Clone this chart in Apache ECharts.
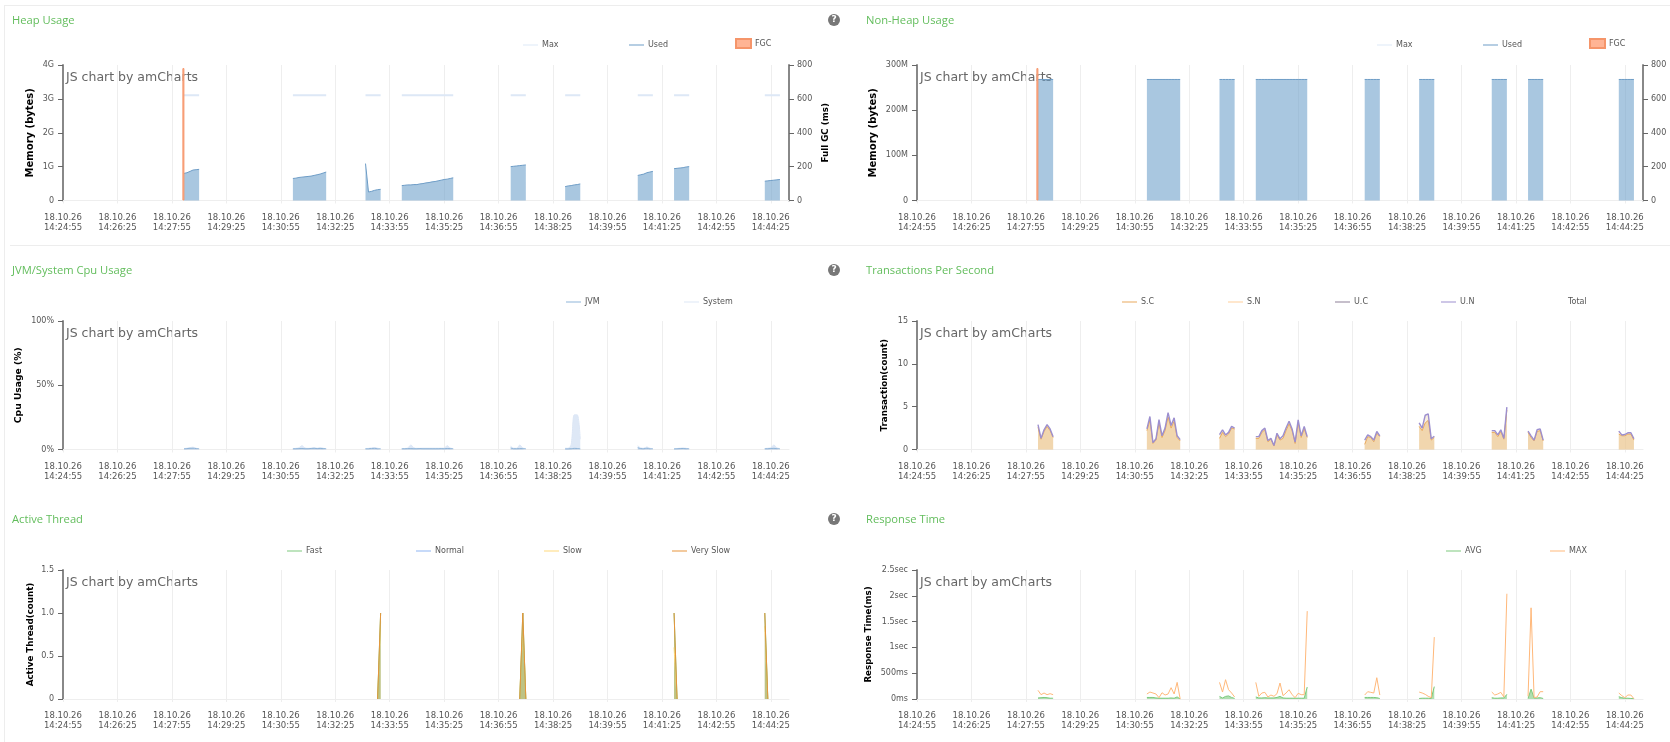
<!DOCTYPE html>
<html>
<head>
<meta charset="utf-8">
<title>Inspector</title>
<script src="https://cdn.jsdelivr.net/npm/echarts@6/dist/echarts.min.js"></script>
<style>
	html, body { margin: 0; padding: 0; background: #fff; width: 1670px; height: 742px; overflow: hidden; }
	.rule { position: absolute; background: #ededed; }
	.myECharts { position: absolute; }
</style>
</head>
<body>
<div class="rule" style="left:4px;top:5px;width:1666px;height:1px"></div>
<div class="rule" style="left:4px;top:5px;width:1px;height:737px"></div>
<div class="rule" style="left:10px;top:245px;width:1660px;height:1px"></div>
<div id="heapChart" class="myECharts" style="left:0;top:0;width:845px;height:245px"></div>
<div id="nonHeapChart" class="myECharts" style="left:845px;top:0;width:825px;height:245px"></div>
<div id="cpuChart" class="myECharts" style="left:0;top:245px;width:845px;height:250px"></div>
<div id="tpsChart" class="myECharts" style="left:845px;top:245px;width:825px;height:250px"></div>
<div id="threadChart" class="myECharts" style="left:0;top:495px;width:845px;height:247px"></div>
<div id="responseChart" class="myECharts" style="left:845px;top:495px;width:825px;height:247px"></div>
<script>
// x axis, seconds after 14:24:55
var dateLabel = "18.10.26";
var timeLabels = ["14:24:55", "14:26:25", "14:27:55", "14:29:25", "14:30:55", "14:32:25", "14:33:55",
	"14:35:25", "14:36:55", "14:38:25", "14:39:55", "14:41:25", "14:42:55", "14:44:25"];

// samples come in runs, the agent was not reporting between them
var sampleTimes = [
	[200, 205, 210, 215, 220, 225],
	[380, 385, 390, 395, 400, 405, 410, 415, 420, 425, 430, 435],
	[500, 505, 510, 515, 520, 525],
	[560, 565, 570, 575, 580, 585, 590, 595, 600, 605, 610, 615, 620, 625, 630, 635, 640, 645],
	[740, 745, 750, 755, 760, 765],
	[830, 835, 840, 845, 850, 855],
	[950, 955, 960, 965, 970, 975],
	[1010, 1015, 1020, 1025, 1030, 1035],
	[1160, 1165, 1170, 1175, 1180, 1185]
];

var fgcTimes = [199];
var fgcValues = [782];

// heap, GB
var heapMax = [
	[3.11, 3.11, 3.11, 3.11, 3.11, 3.11],
	[3.11, 3.11, 3.11, 3.11, 3.11, 3.11, 3.11, 3.11, 3.11, 3.11, 3.11, 3.11],
	[3.11, 3.11, 3.11, 3.11, 3.11, 3.11],
	[3.11, 3.11, 3.11, 3.11, 3.11, 3.11, 3.11, 3.11, 3.11, 3.11, 3.11, 3.11, 3.11, 3.11, 3.11, 3.11, 3.11, 3.11],
	[3.11, 3.11, 3.11, 3.11, 3.11, 3.11],
	[3.11, 3.11, 3.11, 3.11, 3.11, 3.11],
	[3.11, 3.11, 3.11, 3.11, 3.11, 3.11],
	[3.11, 3.11, 3.11, 3.11, 3.11, 3.11],
	[3.11, 3.11, 3.11, 3.11, 3.11, 3.11]
];
var heapUsed = [
	[0.80, 0.82, 0.86, 0.90, 0.91, 0.92],
	[0.65, 0.66, 0.68, 0.69, 0.70, 0.71, 0.72, 0.74, 0.76, 0.78, 0.81, 0.84],
	[1.09, 0.25, 0.27, 0.30, 0.32, 0.33],
	[0.44, 0.45, 0.46, 0.46, 0.47, 0.47, 0.49, 0.50, 0.52, 0.53, 0.55, 0.56, 0.58, 0.60, 0.62, 0.63, 0.65, 0.67],
	[1.00, 1.01, 1.02, 1.03, 1.04, 1.05],
	[0.41, 0.43, 0.44, 0.46, 0.47, 0.49],
	[0.74, 0.76, 0.78, 0.82, 0.84, 0.86],
	[0.94, 0.95, 0.96, 0.97, 0.99, 1.00],
	[0.57, 0.58, 0.59, 0.60, 0.61, 0.62]
];
var heapLabels = ["0", "1G", "2G", "3G", "4G"];

// non heap, MB
var nonHeapMax = [];
var nonHeapUsed = [
	[268, 268, 268, 268, 268, 268],
	[268, 268, 268, 268, 268, 268, 268, 268, 268, 268, 268, 268],
	[268, 268, 268, 268, 268, 268],
	[268, 268, 268, 268, 268, 268, 268, 268, 268, 268, 268, 268, 268, 268, 268, 268, 268, 268],
	[268, 268, 268, 268, 268, 268],
	[268, 268, 268, 268, 268, 268],
	[268, 268, 268, 268, 268, 268],
	[268, 268, 268, 268, 268, 268],
	[268, 268, 268, 268, 268, 268]
];
var nonHeapLabels = ["0", "100M", "200M", "300M"];
var fullGcLabels = ["0", "200", "400", "600", "800"];

// cpu, percent
var cpuJvm = [
	[0.6, 0.7, 0.9, 1.0, 0.7, 0.5],
	[0.6, 0.6, 0.7, 0.8, 0.6, 0.6, 0.8, 0.9, 0.7, 0.8, 0.7, 0.5],
	[0.6, 0.6, 0.8, 0.9, 0.6, 0.5],
	[0.6, 0.6, 0.7, 0.7, 0.6, 0.6, 0.7, 0.6, 0.6, 0.6, 0.6, 0.6, 0.6, 0.7, 0.6, 0.8, 0.7, 0.5],
	[1.2, 0.6, 0.6, 0.7, 0.7, 0.5],
	[0.5, 0.5, 0.6, 0.9, 0.8, 0.5],
	[1.5, 0.7, 0.6, 1.0, 0.6, 0.5],
	[0.5, 0.6, 0.7, 0.8, 0.6, 0.5],
	[0.6, 0.6, 0.8, 0.9, 0.7, 0.5]
];
var cpuSystem = [
	[0.8, 1.0, 1.5, 1.8, 1.0, 0.6],
	[0.8, 0.9, 1.4, 3.0, 1.2, 0.9, 1.0, 1.5, 1.0, 1.5, 1.0, 0.6],
	[0.8, 0.9, 1.2, 1.5, 1.0, 0.6],
	[0.7, 0.8, 1.2, 3.5, 1.3, 0.9, 0.9, 1.0, 1.0, 1.0, 1.0, 1.0, 1.0, 1.0, 1.0, 3.0, 1.2, 0.6],
	[2.5, 1.0, 1.0, 3.5, 1.2, 0.7],
	[1.0, 1.0, 4.0, 27, 27, 8],
	[3.0, 1.2, 1.0, 2.0, 1.0, 0.6],
	[0.7, 0.8, 1.0, 1.2, 0.9, 0.6],
	[0.8, 1.0, 1.4, 3.5, 1.3, 0.7]
];
var cpuLabels = ["0%", "50%", "100%"];

// transactions per second
var tpsSc = [
	[2.6, 1.2, 2.1, 2.7, 2.2, 1.4],
	[2.2, 3.4, 0.7, 1.1, 3.1, 1.4, 2.2, 3.8, 2.5, 3.3, 1.4, 1.0],
	[1.3, 2.0, 1.5, 1.8, 2.5, 2.4],
	[1.3, 1.3, 2.0, 2.3, 0.9, 1.2, 0.4, 1.7, 1.1, 1.3, 2.2, 3.0, 2.2, 0.7, 3.1, 1.4, 2.4, 1.4],
	[0.6, 1.5, 1.4, 0.9, 1.9, 1.5],
	[2.7, 2.2, 3.1, 3.4, 1.1, 1.4],
	[2.0, 2.0, 1.5, 2.1, 1.2, 4.6],
	[2.0, 1.4, 1.0, 2.1, 2.2, 1.0],
	[1.8, 1.6, 1.6, 1.8, 1.8, 1.1]
];
var tpsSn = [];
var tpsUc = [];
var tpsUn = [
	[2.9, 1.3, 2.3, 2.9, 2.4, 1.5],
	[2.4, 3.85, 0.8, 1.25, 3.5, 1.6, 2.5, 4.3, 2.8, 3.7, 1.6, 1.15],
	[1.75, 2.3, 1.7, 2.0, 2.7, 2.5],
	[1.5, 1.5, 2.2, 2.5, 1.05, 1.3, 0.47, 1.9, 1.25, 1.6, 2.5, 3.3, 2.4, 0.85, 3.45, 1.6, 2.7, 1.5],
	[1.1, 1.7, 1.5, 1.1, 2.1, 1.6],
	[3.1, 2.5, 4.0, 4.15, 1.25, 1.55],
	[2.2, 2.2, 1.7, 2.3, 1.3, 4.95],
	[2.15, 1.6, 1.1, 2.3, 2.4, 1.1],
	[2.15, 1.7, 1.75, 1.95, 1.95, 1.25]
];
var tpsTotal = [];
var tpsLabels = ["0", "5", "10", "15"];

// active threads, null where the line sits on the axis away from a spike
var threadFast = [
	[],
	[],
	[null, null, null, null, 0, 1],
	[],
	[null, null, null, 0, 1, 0],
	[],
	[],
	[1, 0, null, null, null, null],
	[1, 0, null, null, null, null]
];
var threadNormal = [];
var threadSlow = [
	[],
	[],
	[null, null, null, null, 0, 0.9],
	[],
	[null, null, null, 0, 0.75, 0],
	[],
	[],
	[0.6, 0, null, null, null, null],
	[0.85, 0, null, null, null, null]
];
var threadVerySlow = [
	[],
	[],
	[null, null, null, null, 0, 1],
	[],
	[null, null, null, 0, 1, 0],
	[],
	[],
	[1, 0, null, null, null, null],
	[1, 0, null, null, null, null]
];
var threadLabels = ["0", "0.5", "1.0", "1.5"];

// response time, ms
var responseAvg = [
	[20, 25, 30, 25, 15, 15],
	[30, 30, 30, 20, 15, 15, 15, 15, 20, 15, 40, 0],
	[50, 20, 50, 60, 30, 10],
	[40, 20, 20, 25, 20, 20, 20, 30, 50, 20, 15, 15, 15, 15, 15, 15, 15, 232],
	[30, 30, 30, 30, 25, 10],
	[10, 15, 15, 15, 10, 240],
	[25, 15, 15, 20, 20, 90],
	[10, 190, 20, 20, 25, 10],
	[45, 25, 15, 15, 10, 5]
];
var responseMax = [
	[168, 84, 116, 84, 103, 84],
	[97, 135, 116, 97, 26, 122, 77, 97, 219, 97, 322, 0],
	[322, 135, 374, 180, 116, 39],
	[322, 52, 116, 129, 39, 77, 52, 103, 310, 65, 116, 180, 84, 26, 110, 84, 84, 1703],
	[77, 142, 129, 116, 413, 77],
	[135, 116, 90, 52, 26, 1200],
	[135, 77, 97, 129, 39, 2040],
	[52, 1767, 26, 39, 142, 142],
	[116, 65, 26, 77, 77, 6]
];
var responseLabels = ["0ms", "500ms", "1sec", "1.5sec", "2sec", "2.5sec"];

var axisFont = "DejaVu Sans";

// runs of values -> [time, value] pairs, a null point breaks the line between runs
function toPoints(values) {
	var points = [];
	for (var i = 0; i < values.length; i++) {
		var times = sampleTimes[i];
		for (var j = 0; j < values[i].length; j++) {
			points.push([times[j], values[i][j]]);
		}
		points.push([times[times.length - 1] + 1, null]);
	}
	return points;
}

function lineSeries(name, values, color, areaColor, smooth, width) {
	var series = {
		name: name,
		type: "line",
		data: toPoints(values),
		color: color,
		showSymbol: false,
		smooth: smooth ? 0.3 : false,
		connectNulls: false,
		lineStyle: { width: width || 1, color: color }
	};
	if (areaColor) {
		series.areaStyle = { color: areaColor, opacity: 1 };
	}
	return series;
}

function fgcSeries() {
	var data = [];
	for (var i = 0; i < fgcTimes.length; i++) {
		data.push([fgcTimes[i], fgcValues[i]]);
	}
	return {
		name: "FGC",
		type: "bar",
		yAxisIndex: 1,
		barWidth: 2,
		z: 5,
		color: "#ffc4a8",
		itemStyle: { color: "#ffb494", borderColor: "#f5956a", borderWidth: 1 },
		data: data
	};
}

function yAxisOf(labels, interval, name, nameGap, nameSize, position) {
	return {
		type: "value",
		position: position || "left",
		min: 0,
		max: interval * (labels.length - 1),
		interval: interval,
		name: name,
		nameLocation: "middle",
		nameGap: nameGap,
		nameMoveOverlap: false,
		nameRotate: 90,
		nameTextStyle: { fontFamily: axisFont, fontSize: nameSize, fontWeight: "bold", color: "#000" },
		axisLine: { show: true, lineStyle: { color: "#888", width: 2 } },
		axisTick: { show: true, length: 5, lineStyle: { color: "#666" } },
		axisLabel: {
			fontFamily: axisFont, fontSize: 8, color: "#555", margin: position == "right" ? 8 : 9,
			formatter: function(value) { return labels[Math.round(value / interval)]; }
		},
		splitLine: { show: false }
	};
}

function legendOf(items, top) {
	var legends = [];
	for (var i = 0; i < items.length; i++) {
		var box = items[i].name == "FGC";
		legends.push({
			data: [{ name: items[i].name, itemStyle: items[i].name == "Total" ? { color: "rgba(0,0,0,0)" } : undefined }],
			left: items[i].left,
			top: box ? top - 5 : top - 2,
			padding: 0,
			icon: "rect",
			itemWidth: 15,
			itemHeight: box ? 9 : 1,
			selectedMode: false,
			textStyle: { fontFamily: axisFont, fontSize: 8, color: "#555", padding: [0, 0, 0, -1] }
		});
	}
	return legends;
}

function initChart(id, cfg) {
	var graphics = [{
		type: "text",
		left: cfg.left + 3,
		top: cfg.top + 6,
		style: { text: "JS chart by amCharts", fontFamily: axisFont, fontSize: 12.5, fill: "#666" }
	}];
	if (cfg.help) {
		graphics.push({ type: "circle", shape: { cx: 834, cy: cfg.titleY, r: 6 }, style: { fill: "#777" } });
		graphics.push({
			type: "text", x: 834, y: cfg.titleY,
			style: { text: "?", fontFamily: axisFont, fontSize: 9, fontWeight: "bold", fill: "#fff", align: "center", verticalAlign: "middle" }
		});
	}
	var chart = echarts.init(document.getElementById(id));
	chart.setOption({
		animation: false,
		title: {
			text: cfg.title, left: cfg.titleX, top: cfg.titleY - 5, padding: 0,
			textStyle: { fontFamily: "Open Sans", fontSize: 11.2, fontWeight: "normal", color: "#62bd5c" }
		},
		legend: legendOf(cfg.legend, cfg.legendY),
		grid: { left: cfg.left, top: cfg.top, width: 726, height: cfg.height },
		xAxis: {
			type: "value", min: 0, max: 1200, interval: 90,
			axisLine: { lineStyle: { color: "#eee", width: 1 } },
			axisTick: { length: 3, lineStyle: { color: "#eee" } },
			axisLabel: {
				showMaxLabel: false, fontFamily: axisFont, fontSize: 8.5, color: "#555", margin: cfg.labelMargin || 12.5, lineHeight: 10,
				formatter: function(value) { return dateLabel + "\n" + timeLabels[Math.round(value / 90)]; }
			},
			splitLine: { show: true, showMinLine: false, showMaxLine: false, lineStyle: { color: "#eee", width: 1 } }
		},
		yAxis: cfg.yAxis,
		series: cfg.series,
		graphic: graphics
	});
}

function initCharts() {
	var usedArea = "rgba(112,162,203,0.6)";
	initChart("heapChart", {
		title: "Heap Usage", titleX: 12, titleY: 20, help: true, left: 63, top: 65, height: 135.5, legendY: 43,
		legend: [{ name: "Max", left: 523 }, { name: "Used", left: 629 }, { name: "FGC", left: 735 }],
		yAxis: [yAxisOf(heapLabels, 1, "Memory (bytes)", 28, 10), yAxisOf(fullGcLabels, 200, "Full GC (ms)", 32, 8.7, "right")],
		series: [lineSeries("Max", heapMax, "#dde8f6", null, false, 2), lineSeries("Used", heapUsed, "#6d9cc6", usedArea), fgcSeries()]
	});
	initChart("nonHeapChart", {
		title: "Non-Heap Usage", titleX: 21, titleY: 20, left: 72, top: 65, height: 135.5, legendY: 43,
		legend: [{ name: "Max", left: 532 }, { name: "Used", left: 638 }, { name: "FGC", left: 744 }],
		yAxis: [yAxisOf(nonHeapLabels, 100, "Memory (bytes)", 39, 10), yAxisOf(fullGcLabels, 200, "", 30, 9, "right")],
		series: [lineSeries("Max", nonHeapMax, "#dde8f6", null, false, 2), lineSeries("Used", nonHeapUsed, "#6d9cc6", usedArea), fgcSeries()]
	});
	initChart("cpuChart", {
		title: "JVM/System Cpu Usage", titleX: 12, titleY: 25, help: true, left: 63, top: 76, height: 128.5, legendY: 55,
		legend: [{ name: "JVM", left: 566 }, { name: "System", left: 684 }],
		yAxis: [yAxisOf(cpuLabels, 50, "Cpu Usage (%)", 40, 9.2)],
		series: [lineSeries("System", cpuSystem, "#dce6f5", "rgba(200,216,240,0.6)", true), lineSeries("JVM", cpuJvm, "#8fb4d8", "rgba(111,156,203,0.3)", true)]
	});
	initChart("tpsChart", {
		title: "Transactions Per Second", titleX: 21, titleY: 25, left: 72, top: 76, height: 128.5, legendY: 55,
		legend: [{ name: "S.C", left: 277 }, { name: "S.N", left: 383 }, { name: "U.C", left: 490 }, { name: "U.N", left: 596 }, { name: "Total", left: 704 }],
		yAxis: [yAxisOf(tpsLabels, 5, "Transaction(count)", 28, 8.7)],
		series: [
			lineSeries("S.C", tpsSc, "#e9a95c", "rgba(233,190,130,0.6)"),
			lineSeries("S.N", tpsSn, "#ffcf9a"),
			lineSeries("U.C", tpsUc, "#8d7f96"),
			lineSeries("U.N", tpsUn, "#9c8fcf", "rgba(237,208,164,0.35)", false, 1.4),
			lineSeries("Total", tpsTotal, "rgba(0,0,0,0)")
		]
	});
	initChart("threadChart", {
		title: "Active Thread", titleX: 12, titleY: 24, help: true, left: 63, top: 75, height: 129, legendY: 54, labelMargin: 11.5,
		legend: [{ name: "Fast", left: 287 }, { name: "Normal", left: 416 }, { name: "Slow", left: 544 }, { name: "Very Slow", left: 672 }],
		yAxis: [yAxisOf(threadLabels, 0.5, "Active Thread(count)", 28, 8.7)],
		series: [
			lineSeries("Slow", threadSlow, "#ffd97a", "rgba(215,190,130,0.5)", true),
			lineSeries("Fast", threadFast, "#7cc97c", "rgba(124,201,124,0.6)"),
			lineSeries("Normal", threadNormal, "#8fb4f2", "rgba(143,180,242,0.4)"),
			lineSeries("Very Slow", threadVerySlow, "#e6953c", "rgba(230,170,100,0.35)")
		]
	});
	initChart("responseChart", {
		title: "Response Time", titleX: 21, titleY: 24, left: 72, top: 75, height: 129, legendY: 54, labelMargin: 11.5,
		legend: [{ name: "AVG", left: 601 }, { name: "MAX", left: 705 }],
		yAxis: [yAxisOf(responseLabels, 500, "Response Time(ms)", 44, 8.7)],
		series: [lineSeries("AVG", responseAvg, "#7cc97c", "rgba(124,201,124,0.6)"), lineSeries("MAX", responseMax, "#ffb87a")]
	});
}

initCharts();
</script>
</body>
</html>
